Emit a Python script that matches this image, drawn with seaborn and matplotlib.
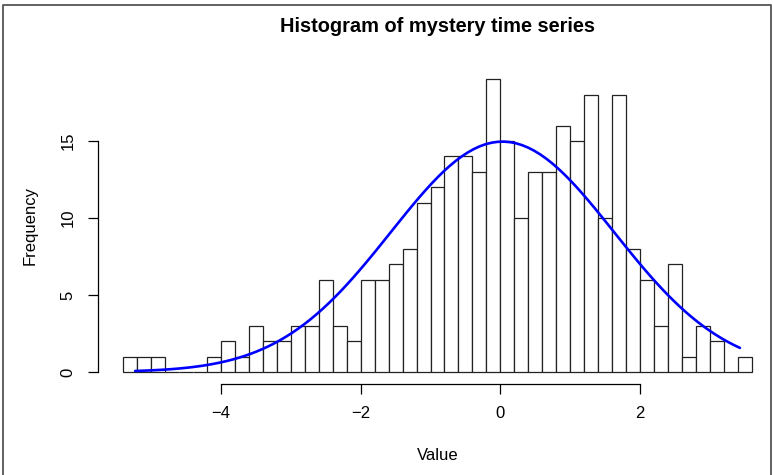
import numpy as np
import pandas as pd
import matplotlib
matplotlib.use("Agg")
import matplotlib.pyplot as plt
from matplotlib.lines import Line2D
import seaborn as sns

# histogram counts, 0.2 wide bins from -5.4 to 3.6
BIN_LO = -5.4
BIN_HI = 3.6
N_BINS = 45
COUNTS = [1, 1, 1, 0, 0, 0, 1, 2, 1, 3, 2, 2, 3, 3, 6, 3, 2, 6, 6, 7, 8,
          11, 12, 14, 14, 13, 19, 15, 10, 13, 13, 16, 15, 18, 10, 18, 8, 6,
          3, 7, 1, 3, 2, 0, 1]

# fitted normal curve
NORM_MEAN = 0.03
NORM_SD = 1.6
CURVE_FROM = -5.23
CURVE_TO = 3.43

XTICKS = [-4, -2, 0, 2]
YTICKS = [0, 5, 10, 15]

sns.set_style("white")
plt.rcParams['font.family'] = ['Liberation Sans', 'DejaVu Sans']
plt.rcParams['text.color'] = 'black'
plt.rcParams['axes.labelcolor'] = 'black'
plt.rcParams['xtick.color'] = 'black'
plt.rcParams['ytick.color'] = 'black'

edges = np.linspace(BIN_LO, BIN_HI, N_BINS + 1)
bw = edges[1] - edges[0]
df = pd.DataFrame({'mid': (edges[:-1] + edges[1:]) / 2, 'count': COUNTS})

fig = plt.figure(figsize=(7.73, 4.75), dpi=100)
W, H = 773, 475
# plot region in pixels (R style, 4% padding)
ax = fig.add_axes([98.1 / W, (H - 383.7) / H, (776.9 - 98.1) / W, (383.7 - 67.7) / H])

sns.histplot(data=df, x='mid', weights='count', bins=N_BINS, binrange=(BIN_LO, BIN_HI),
             ax=ax, color='white', edgecolor='#222222', linewidth=0.9, alpha=1)

#normal curve scaled to counts
xs = np.linspace(CURVE_FROM, CURVE_TO, 101)
ys = sum(COUNTS) * bw * np.exp(-0.5 * ((xs - NORM_MEAN) / NORM_SD) ** 2) / (NORM_SD * np.sqrt(2 * np.pi))
sns.lineplot(x=xs, y=ys, ax=ax, color='blue', linewidth=1.9)

xr = BIN_HI - BIN_LO
ax.set_xlim(BIN_LO - 0.04 * xr, BIN_HI + 0.04 * xr)
ax.set_ylim(-0.04 * max(COUNTS), max(COUNTS) * 1.04)

ax.spines['top'].set_visible(False)
ax.spines['right'].set_visible(False)
ax.spines['left'].set_bounds(YTICKS[0], YTICKS[-1])
ax.spines['bottom'].set_bounds(XTICKS[0], XTICKS[-1])
for s in ['left', 'bottom']:
    ax.spines[s].set_color('black')
    ax.spines[s].set_linewidth(0.9)

ax.set_xticks(XTICKS)
ax.set_xticklabels(['\u2212' + str(-t) if t < 0 else str(t) for t in XTICKS], fontsize=12)
ax.set_yticks(YTICKS)
ax.set_yticklabels([str(t) for t in YTICKS], fontsize=12, rotation=90, va='center')
ax.tick_params(axis='both', direction='out', length=7.2, width=0.9, color='black',
               bottom=True, left=True)
ax.tick_params(axis='x', pad=9)
ax.tick_params(axis='y', pad=9)

ax.set_xlabel('Value', fontsize=12)
ax.set_ylabel('Frequency', fontsize=12)
ax.xaxis.set_label_coords(0.5, (383.7 - 455) / 316)
ax.xaxis.label.set_va('center')
ax.yaxis.set_label_coords((30 - 98.1) / 678.8, 0.5)
ax.yaxis.label.set_va('center')

fig.text(438 / W, 1 - 27 / H, 'Histogram of mystery time series', ha='center', va='center',
         fontsize=14.4, fontweight='bold', color='black')

# outer frame (no bottom edge)
fig.add_artist(Line2D([3 / W, 3 / W, 771 / W, 771 / W], [0, 1 - 5 / H, 1 - 5 / H, 0],
                      transform=fig.transFigure, color='#555555', linewidth=1.3))

fig.savefig('out.png', dpi=100)
